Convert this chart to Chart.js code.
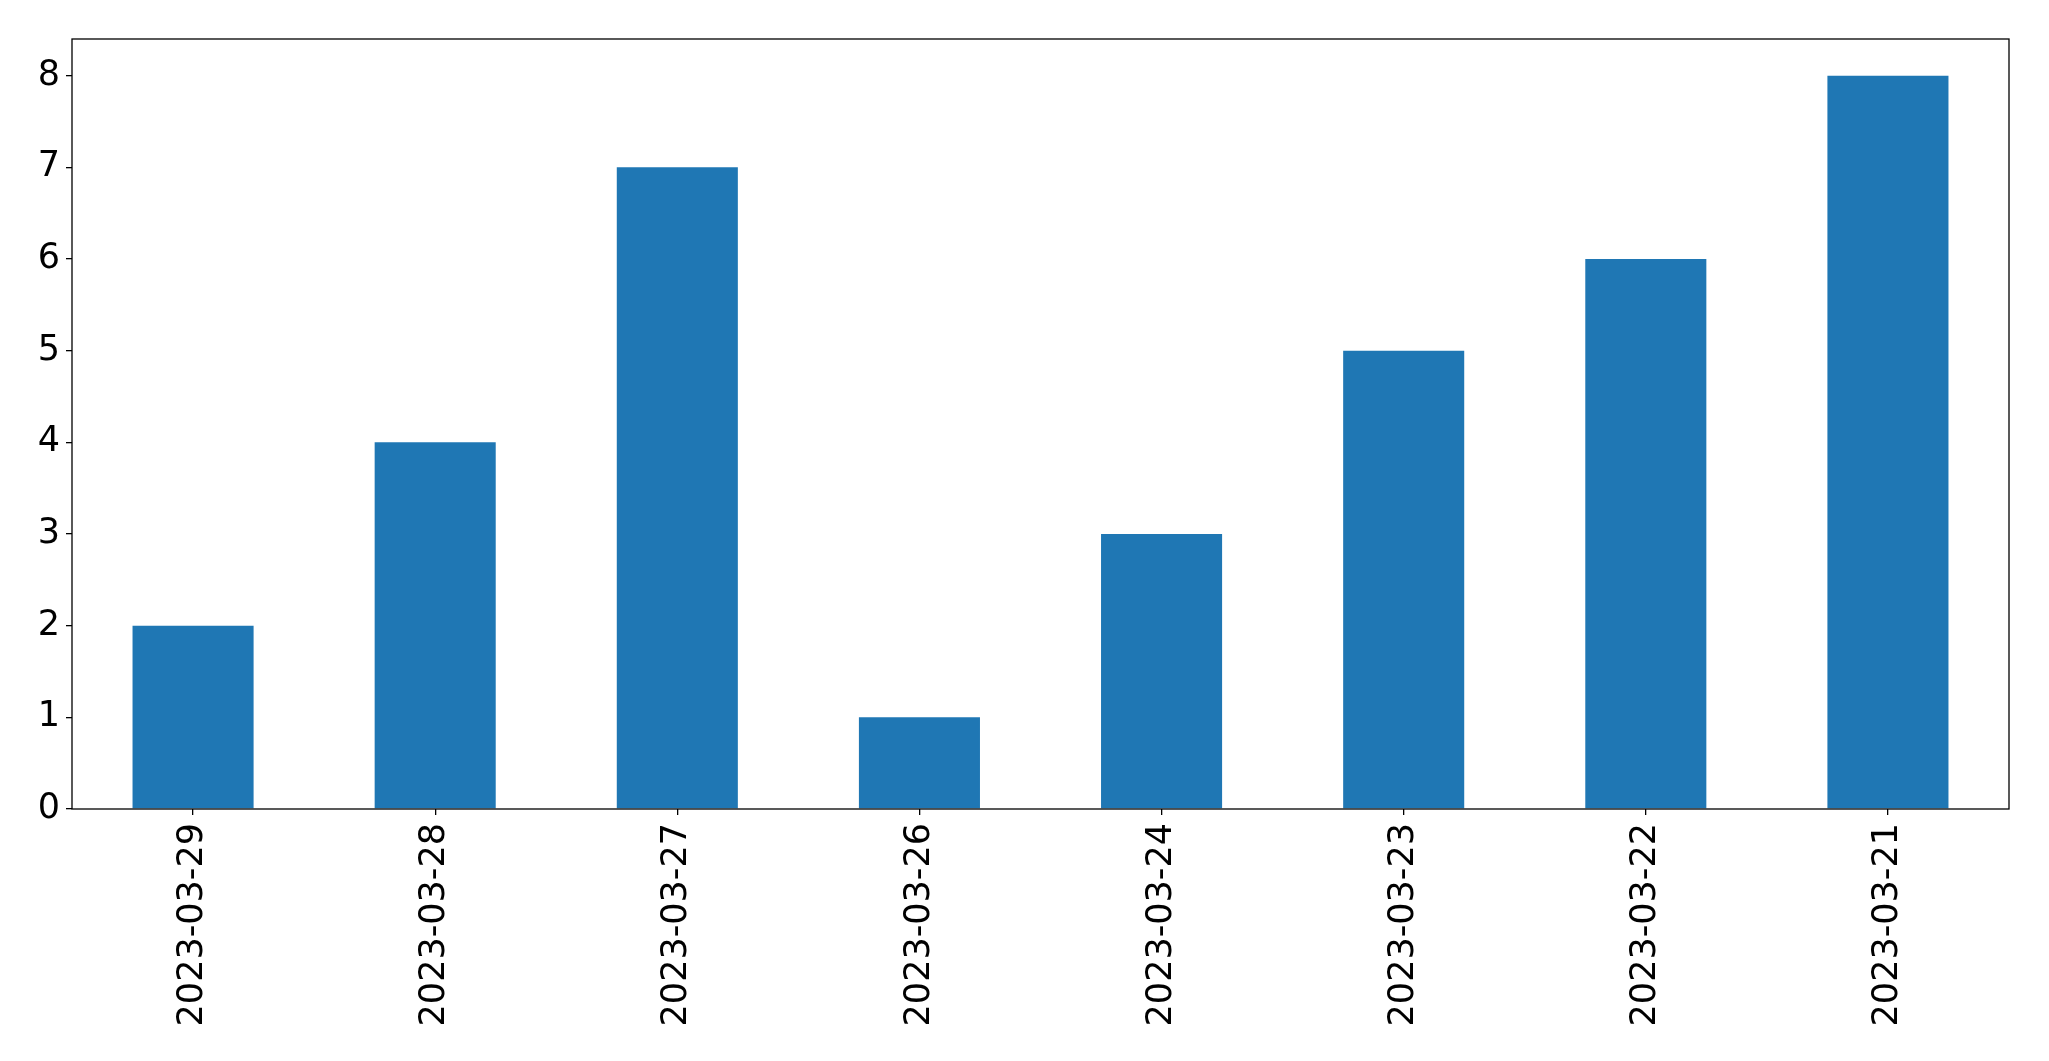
<!DOCTYPE html>
<html lang="en">
<head>
    <meta charset="UTF-8">
    <title>Counts by date</title>
    <script src="https://cdn.jsdelivr.net/npm/chart.js"></script>
    <style>
        html, body { margin: 0; padding: 0; background: #fff; }
        .chart-container { width: 2049px; height: 1061px; }
    </style>
</head>
<body>
    <div class="chart-container">
        <canvas id="barChart"></canvas>
    </div>

    <script>
        const dates = ['2023-03-29', '2023-03-28', '2023-03-27', '2023-03-26',
                       '2023-03-24', '2023-03-23', '2023-03-22', '2023-03-21'];
        const counts = [2, 4, 7, 1, 3, 5, 6, 8];
        const yTicks = [0, 1, 2, 3, 4, 5, 6, 7, 8];

        // box around the plot area, like matplotlib spines
        const frame = {
            id: 'frame',
            afterDraw(chart) {
                const a = chart.chartArea;
                const c = chart.ctx;
                c.save();
                c.strokeStyle = '#000';
                c.lineWidth = 1.3;
                c.strokeRect(a.left, a.top, a.right - a.left, a.bottom - a.top);
                c.restore();
            }
        };

        const font = { family: 'DejaVu Sans', size: 35 };

        new Chart(document.getElementById('barChart'), {
            type: 'bar',
            data: {
                labels: dates,
                datasets: [{
                    data: counts,
                    backgroundColor: '#1f77b4',
                    categoryPercentage: 1.0,
                    barPercentage: 0.5
                }]
            },
            options: {
                responsive: true,
                maintainAspectRatio: false,
                animation: false,
                layout: { padding: { top: 39, right: 40, left: 0, bottom: 0 } },
                plugins: {
                    legend: { display: false },
                    tooltip: { enabled: false }
                },
                scales: {
                    x: {
                        afterFit(scale) { scale.height = 252; },
                        border: { display: false },
                        grid: {
                            offset: false,
                            drawOnChartArea: false,
                            drawTicks: true,
                            tickLength: 6,
                            color: '#000',
                            lineWidth: 1.3
                        },
                        ticks: {
                            minRotation: 90,
                            maxRotation: 90,
                            padding: 8,
                            color: '#000',
                            font: font
                        }
                    },
                    y: {
                        min: 0,
                        max: 8.4,
                        bounds: 'data',
                        afterFit(scale) { scale.width = 72; },
                        afterBuildTicks(scale) {
                            scale.ticks = yTicks.map(v => ({ value: v }));
                        },
                        border: { display: false },
                        grid: {
                            drawOnChartArea: false,
                            drawTicks: true,
                            tickLength: 6,
                            color: '#000',
                            lineWidth: 1.3
                        },
                        ticks: {
                            stepSize: 1,
                            includeBounds: false,
                            padding: 6,
                            color: '#000',
                            font: font
                        }
                    }
                }
            },
            plugins: [frame]
        });
    </script>
</body>
</html>
